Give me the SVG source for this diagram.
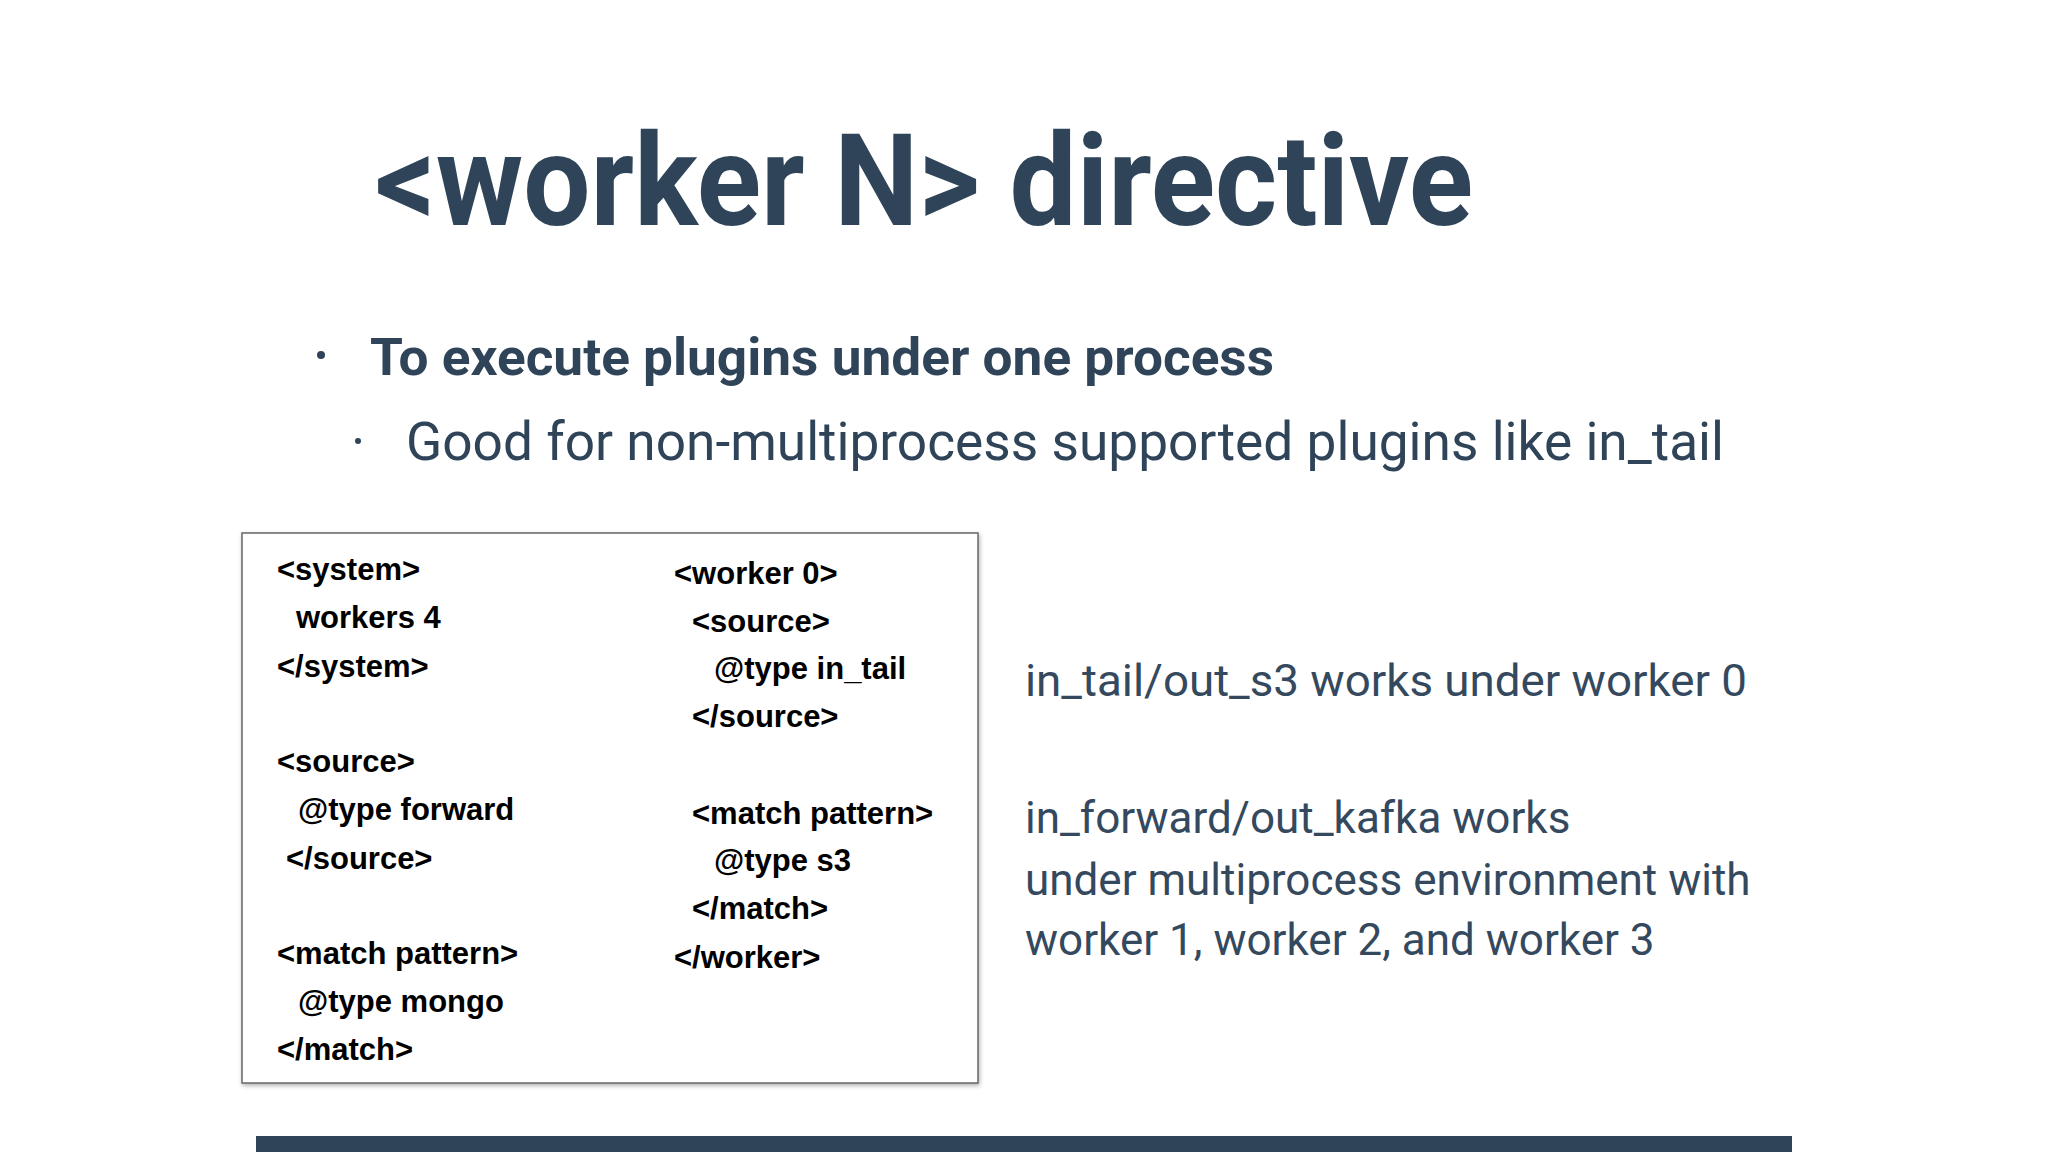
<svg xmlns="http://www.w3.org/2000/svg" width="2048" height="1152" viewBox="0 0 2048 1152">
<defs>
<style>
.t{fill:#2f4458;font-family:Roboto,"Liberation Sans",sans-serif}
.c{fill:#000;font-family:"Liberation Sans",Arial,sans-serif;font-weight:bold;font-size:31px}
.r{fill:#34495e;font-family:Roboto,"Liberation Sans",sans-serif;font-size:44px}
</style>
<filter id="sh" x="-5%" y="-5%" width="110%" height="110%"><feDropShadow dx="1" dy="2" stdDeviation="2" flood-opacity="0.3"/></filter>
</defs>
<rect width="2048" height="1152" fill="#fff"/>
<g id="title"><text class="t" x="375" y="225" font-size="128" font-weight="bold" textLength="1098" lengthAdjust="spacingAndGlyphs">&lt;worker N&gt; directive</text></g>
<g id="bullets">
<circle cx="321" cy="355" r="4" fill="#2f4458"/>
<text class="t" x="370" y="375" font-size="52" font-weight="bold" textLength="904" lengthAdjust="spacingAndGlyphs">To execute plugins under one process</text>
<circle cx="358" cy="441" r="3" fill="#2f4458"/>
<text class="t" x="406" y="460" font-size="54" textLength="1318" lengthAdjust="spacingAndGlyphs">Good for non-multiprocess supported plugins like in_tail</text>
</g>
<g id="codebox">
<rect x="242" y="533" width="736" height="550" fill="#fff" stroke="#666" stroke-width="1.5" filter="url(#sh)"/>
<text class="c" x="277" y="580">&lt;system&gt;</text>
<text class="c" x="296" y="628">workers 4</text>
<text class="c" x="277" y="677">&lt;/system&gt;</text>
<text class="c" x="277" y="772">&lt;source&gt;</text>
<text class="c" x="298" y="820">@type forward</text>
<text class="c" x="286" y="869">&lt;/source&gt;</text>
<text class="c" x="277" y="964">&lt;match pattern&gt;</text>
<text class="c" x="298" y="1012">@type mongo</text>
<text class="c" x="277" y="1060">&lt;/match&gt;</text>
<text class="c" x="674" y="584">&lt;worker 0&gt;</text>
<text class="c" x="692" y="632">&lt;source&gt;</text>
<text class="c" x="714" y="679">@type in_tail</text>
<text class="c" x="692" y="727">&lt;/source&gt;</text>
<text class="c" x="692" y="824">&lt;match pattern&gt;</text>
<text class="c" x="714" y="871">@type s3</text>
<text class="c" x="692" y="919">&lt;/match&gt;</text>
<text class="c" x="674" y="968">&lt;/worker&gt;</text>
</g>
<g id="notes">
<text class="r" x="1025" y="696" textLength="722" lengthAdjust="spacingAndGlyphs">in_tail/out_s3 works under worker 0</text>
<text class="r" x="1025" y="833">in_forward/out_kafka works</text>
<text class="r" x="1025" y="895">under multiprocess environment with</text>
<text class="r" x="1025" y="955">worker 1, worker 2, and worker 3</text>
</g>
<rect x="256" y="1136" width="1536" height="16" fill="#2f4458"/>
</svg>
